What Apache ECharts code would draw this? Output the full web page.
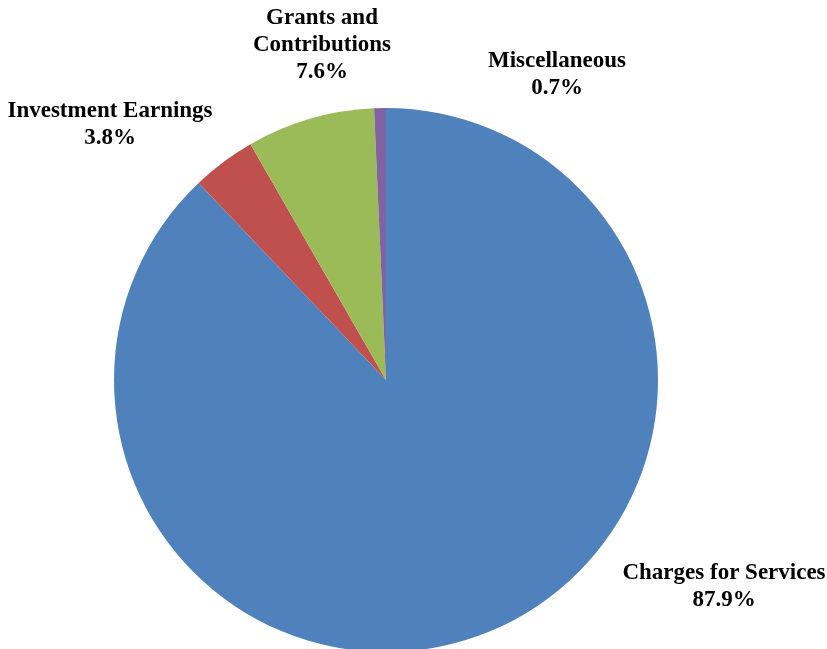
<!DOCTYPE html>
<html>
<head>
<meta charset="utf-8">
<script src="https://cdn.jsdelivr.net/npm/echarts@6/dist/echarts.min.js"></script>
<style>
  html, body { margin: 0; padding: 0; background: #fff; }
  #chart { width: 827px; height: 649px; }
</style>
</head>
<body>
<div id="chart"></div>
<script>
  // revenue sources, percent of total
  const categories = ["Charges for Services", "Investment Earnings", "Grants and Contributions", "Miscellaneous"];
  const labelText = ["Charges for Services", "Investment Earnings", "Grants and\nContributions", "Miscellaneous"];
  const values = [87.9, 3.8, 7.6, 0.7];
  const colors = ["#4F81BD", "#C0504D", "#9BBB59", "#8064A2"];

  // where each label's centre sits
  const labelPos = [
    [724, 587],
    [110, 125],
    [322, 45],
    [557, 75],
  ];

  const data = [];
  for (var i = 0; i < categories.length; i++) {
    data.push({
      name: categories[i],
      value: values[i],
      itemStyle: { color: colors[i] },
    });
  }

  const option = {
    animation: false,
    series: [
      {
        type: "pie",
        center: [386, 380],
        radius: 272,
        startAngle: 90,
        clockwise: true,
        data: data,
        itemStyle: { borderWidth: 0 },
        label: {
          show: true,
          position: "outside",
          alignTo: "none",
          overflow: "none",
          formatter: function (p) {
            return labelText[p.dataIndex] + "\n" + p.value.toFixed(1) + "%";
          },
          fontFamily: "Liberation Serif",
          fontWeight: "bold",
          fontSize: 23,
          lineHeight: 27,
          color: "#000",
          align: "center",
        },
        labelLine: { show: false },
        labelLayout: function (p) {
          return {
            x: labelPos[p.dataIndex][0],
            y: labelPos[p.dataIndex][1],
            align: "center",
            verticalAlign: "middle",
            hideOverlap: false,
          };
        },
        emphasis: { disabled: true },
      },
    ],
  };

  var myChart = echarts.init(document.getElementById("chart"));
  myChart.setOption(option);
</script>
</body>
</html>
